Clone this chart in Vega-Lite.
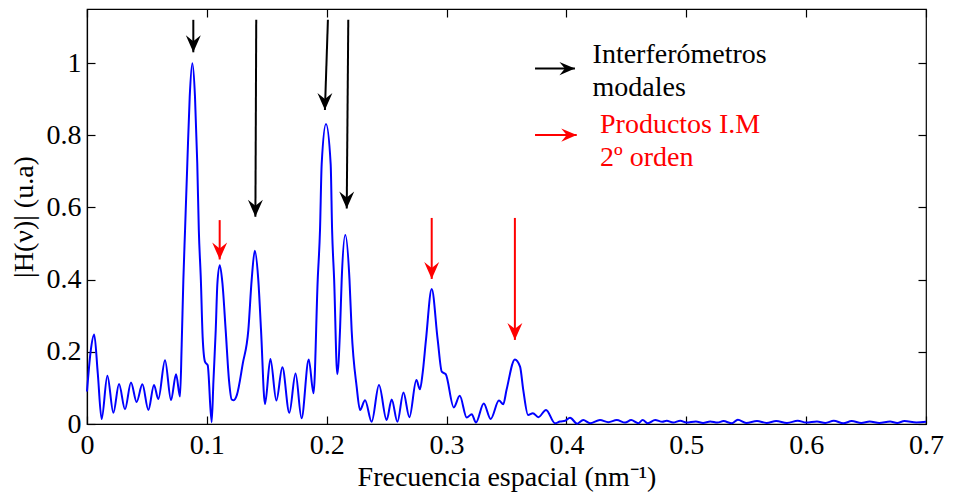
{
  "$schema": "https://vega.github.io/schema/vega-lite/v6.json",
  "width": 839,
  "height": 415,
  "autosize": {"type": "none"},
  "padding": {"left": 87, "top": 9, "right": 29, "bottom": 71},
  "background": "white",
  "config": {
    "view": {"stroke": "black", "strokeWidth": 1.2},
    "font": "Liberation Serif",
    "axis": {
      "domainColor": "black", "domainWidth": 1.2,
      "tickColor": "black", "tickWidth": 1.2, "tickSize": -8,
      "labelFont": "Liberation Serif", "labelFontSize": 28, "labelColor": "black",
      "titleFont": "Liberation Serif", "titleFontSize": 28, "titleFontWeight": "normal", "titleColor": "black",
      "grid": false
    }
  },
  "datasets": {
    "curve": [
      {"f": 0.000, "h": 0.09}, {"f": 0.003, "h": 0.20}, {"f": 0.006, "h": 0.248}, {"f": 0.009, "h": 0.14},
      {"f": 0.0122, "h": 0.014}, {"f": 0.017, "h": 0.134}, {"f": 0.022, "h": 0.031}, {"f": 0.0267, "h": 0.111},
      {"f": 0.0317, "h": 0.041}, {"f": 0.0367, "h": 0.115}, {"f": 0.0414, "h": 0.061}, {"f": 0.0462, "h": 0.110},
      {"f": 0.0512, "h": 0.039}, {"f": 0.0559, "h": 0.108}, {"f": 0.0595, "h": 0.069}, {"f": 0.0651, "h": 0.177},
      {"f": 0.0701, "h": 0.066}, {"f": 0.0743, "h": 0.138}, {"f": 0.0776, "h": 0.076}, {"f": 0.0790, "h": 0.22},
      {"f": 0.0804, "h": 0.40}, {"f": 0.0818, "h": 0.537}, {"f": 0.0837, "h": 0.722}, {"f": 0.0857, "h": 0.907},
      {"f": 0.0879, "h": 1.0}, {"f": 0.0901, "h": 0.907}, {"f": 0.0920, "h": 0.722}, {"f": 0.0933, "h": 0.537},
      {"f": 0.0950, "h": 0.399}, {"f": 0.0965, "h": 0.24}, {"f": 0.0985, "h": 0.172}, {"f": 0.1007, "h": 0.163},
      {"f": 0.1040, "h": 0.005}, {"f": 0.1055, "h": 0.12}, {"f": 0.1074, "h": 0.26}, {"f": 0.1088, "h": 0.39},
      {"f": 0.1108, "h": 0.44}, {"f": 0.1130, "h": 0.39}, {"f": 0.1157, "h": 0.26}, {"f": 0.1185, "h": 0.12},
      {"f": 0.1207, "h": 0.068}, {"f": 0.1225, "h": 0.066}, {"f": 0.125, "h": 0.080}, {"f": 0.1300, "h": 0.168},
      {"f": 0.1346, "h": 0.26}, {"f": 0.1374, "h": 0.40}, {"f": 0.1400, "h": 0.48}, {"f": 0.1429, "h": 0.40},
      {"f": 0.1452, "h": 0.26}, {"f": 0.1485, "h": 0.055}, {"f": 0.153, "h": 0.180}, {"f": 0.158, "h": 0.065},
      {"f": 0.163, "h": 0.157}, {"f": 0.1688, "h": 0.031}, {"f": 0.174, "h": 0.140}, {"f": 0.179, "h": 0.016},
      {"f": 0.185, "h": 0.179}, {"f": 0.189, "h": 0.085}, {"f": 0.1925, "h": 0.40}, {"f": 0.1944, "h": 0.537},
      {"f": 0.1958, "h": 0.72}, {"f": 0.1994, "h": 0.831}, {"f": 0.2033, "h": 0.72}, {"f": 0.2045, "h": 0.537},
      {"f": 0.2062, "h": 0.40}, {"f": 0.2088, "h": 0.138}, {"f": 0.2111, "h": 0.26}, {"f": 0.2125, "h": 0.40},
      {"f": 0.2155, "h": 0.524}, {"f": 0.2190, "h": 0.40}, {"f": 0.2208, "h": 0.26}, {"f": 0.2250, "h": 0.103},
      {"f": 0.2278, "h": 0.039}, {"f": 0.232, "h": 0.066}, {"f": 0.2375, "h": 0.006}, {"f": 0.2436, "h": 0.108},
      {"f": 0.250, "h": 0.011}, {"f": 0.2542, "h": 0.068}, {"f": 0.259, "h": 0.006}, {"f": 0.264, "h": 0.087},
      {"f": 0.269, "h": 0.019}, {"f": 0.2748, "h": 0.122}, {"f": 0.2778, "h": 0.096}, {"f": 0.2800, "h": 0.14},
      {"f": 0.2828, "h": 0.233}, {"f": 0.2876, "h": 0.374}, {"f": 0.2926, "h": 0.233}, {"f": 0.296, "h": 0.145},
      {"f": 0.2993, "h": 0.138}, {"f": 0.306, "h": 0.046}, {"f": 0.311, "h": 0.078}, {"f": 0.3168, "h": 0.018},
      {"f": 0.321, "h": 0.027}, {"f": 0.3245, "h": 0.004}, {"f": 0.331, "h": 0.057}, {"f": 0.3368, "h": 0.014},
      {"f": 0.3437, "h": 0.065}, {"f": 0.3473, "h": 0.055}, {"f": 0.350, "h": 0.094}, {"f": 0.357, "h": 0.179},
      {"f": 0.3613, "h": 0.159}, {"f": 0.364, "h": 0.094}, {"f": 0.368, "h": 0.025}, {"f": 0.372, "h": 0.030},
      {"f": 0.3766, "h": 0.019}, {"f": 0.383, "h": 0.039}, {"f": 0.3905, "h": 0.002}, {"f": 0.3946, "h": 0.007},
      {"f": 0.399, "h": 0.009}, {"f": 0.403, "h": 0.017}, {"f": 0.409, "h": 0.001}, {"f": 0.414, "h": 0.011},
      {"f": 0.4197, "h": 0.002}, {"f": 0.428, "h": 0.011}, {"f": 0.435, "h": 0.005}, {"f": 0.442, "h": 0.011},
      {"f": 0.449, "h": 0.004}, {"f": 0.454, "h": 0.011}, {"f": 0.460, "h": 0.002}, {"f": 0.4636, "h": 0.011},
      {"f": 0.468, "h": 0.002}, {"f": 0.474, "h": 0.011}, {"f": 0.480, "h": 0.006}, {"f": 0.4837, "h": 0.009},
      {"f": 0.489, "h": 0.004}, {"f": 0.495, "h": 0.009}, {"f": 0.500, "h": 0.004}, {"f": 0.508, "h": 0.007},
      {"f": 0.514, "h": 0.003}, {"f": 0.520, "h": 0.007}, {"f": 0.526, "h": 0.004}, {"f": 0.531, "h": 0.008},
      {"f": 0.538, "h": 0.002}, {"f": 0.543, "h": 0.012}, {"f": 0.550, "h": 0.003}, {"f": 0.559, "h": 0.008},
      {"f": 0.567, "h": 0.003}, {"f": 0.575, "h": 0.008}, {"f": 0.584, "h": 0.003}, {"f": 0.593, "h": 0.009},
      {"f": 0.600, "h": 0.004}, {"f": 0.609, "h": 0.007}, {"f": 0.616, "h": 0.003}, {"f": 0.623, "h": 0.009},
      {"f": 0.631, "h": 0.002}, {"f": 0.638, "h": 0.008}, {"f": 0.646, "h": 0.003}, {"f": 0.653, "h": 0.007},
      {"f": 0.661, "h": 0.003}, {"f": 0.670, "h": 0.007}, {"f": 0.676, "h": 0.003}, {"f": 0.682, "h": 0.008},
      {"f": 0.692, "h": 0.004}, {"f": 0.700, "h": 0.006}
    ],
    "arrows": [
      {"xtop": 0.0887, "x": 0.0887, "ytop": 1.120, "ytip": 1.030, "kind": "modal"},
      {"xtop": 0.1412, "x": 0.1405, "ytop": 1.120, "ytip": 0.574, "kind": "modal"},
      {"xtop": 0.2010, "x": 0.1985, "ytop": 1.120, "ytip": 0.870, "kind": "modal"},
      {"xtop": 0.2180, "x": 0.2167, "ytop": 1.120, "ytip": 0.597, "kind": "modal"},
      {"xtop": 0.1107, "x": 0.1107, "ytop": 0.565, "ytip": 0.456, "kind": "product"},
      {"xtop": 0.2876, "x": 0.2876, "ytop": 0.571, "ytip": 0.402, "kind": "product"},
      {"xtop": 0.3570, "x": 0.3570, "ytop": 0.571, "ytip": 0.233, "kind": "product"}
    ],
    "legendArrows": [
      {"x1": 0.3738, "x2": 0.4071, "y": 0.985, "kind": "modal"},
      {"x1": 0.3738, "x2": 0.4086, "y": 0.8006, "kind": "product"}
    ],
    "legendText": [
      {"x": 0.4218, "y": 1.022, "label": "Interferómetros", "kind": "modal"},
      {"x": 0.4218, "y": 0.931, "label": "modales", "kind": "modal"},
      {"x": 0.4280, "y": 0.828, "label": "Productos I.M", "kind": "product"},
      {"x": 0.4280, "y": 0.737, "label": "2º orden", "kind": "product"}
    ]
  },
  "layer": [
    {
      "data": {"name": "curve"},
      "mark": {"type": "line", "color": "#0000ff", "strokeWidth": 2, "interpolate": "monotone"},
      "encoding": {
        "x": {"field": "f", "type": "quantitative",
              "scale": {"domain": [0, 0.7], "nice": false, "zero": false},
              "axis": {"orient": "bottom", "values": [0, 0.1, 0.2, 0.3, 0.4, 0.5, 0.6, 0.7], "format": "~g",
                       "title": "Frecuencia espacial (nm⁻¹)", "labelPadding": 15, "titlePadding": 4, "labelFlush": false}},
        "y": {"field": "h", "type": "quantitative",
              "scale": {"domain": [0, 1.15], "nice": false, "zero": false},
              "axis": {"orient": "left", "values": [0, 0.2, 0.4, 0.6, 0.8, 1], "format": "~g",
                       "title": "|H(ν)| (u.a)", "labelPadding": 14, "titlePadding": 8}}
      }
    },
    {
      "data": {"name": "arrows"},
      "mark": {"type": "rule", "strokeWidth": 2},
      "encoding": {
        "x": {"field": "xtop", "type": "quantitative", "scale": {"domain": [0, 0.7], "nice": false, "zero": false},
              "axis": {"orient": "top", "values": [0, 0.1, 0.2, 0.3, 0.4, 0.5, 0.6, 0.7], "labels": false, "title": null, "domain": false}},
        "x2": {"field": "x"},
        "y": {"field": "ytop", "type": "quantitative", "scale": {"domain": [0, 1.15], "nice": false, "zero": false},
              "axis": {"orient": "right", "values": [0, 0.2, 0.4, 0.6, 0.8, 1], "labels": false, "title": null, "domain": false}},
        "y2": {"field": "ytip"},
        "color": {"field": "kind", "type": "nominal", "scale": {"domain": ["modal", "product"], "range": ["#000000", "#ff0000"]}, "legend": null}
      }
    },
    {
      "data": {"name": "arrows"},
      "mark": {"type": "point", "shape": "M0,0 L-0.88,-2 L0,-1.3 L0.88,-2 Z", "filled": true, "opacity": 1, "size": 289, "strokeWidth": 0},
      "encoding": {
        "x": {"field": "x", "type": "quantitative", "scale": {"domain": [0, 0.7], "nice": false, "zero": false}, "axis": null},
        "y": {"field": "ytip", "type": "quantitative", "scale": {"domain": [0, 1.15], "nice": false, "zero": false}, "axis": null},
        "color": {"field": "kind", "type": "nominal", "scale": {"domain": ["modal", "product"], "range": ["#000000", "#ff0000"]}, "legend": null}
      }
    },
    {
      "data": {"name": "legendArrows"},
      "mark": {"type": "rule", "strokeWidth": 2},
      "encoding": {
        "x": {"field": "x1", "type": "quantitative", "scale": {"domain": [0, 0.7], "nice": false, "zero": false}, "axis": null},
        "x2": {"field": "x2"},
        "y": {"field": "y", "type": "quantitative", "scale": {"domain": [0, 1.15], "nice": false, "zero": false}, "axis": null},
        "color": {"field": "kind", "type": "nominal", "scale": {"domain": ["modal", "product"], "range": ["#000000", "#ff0000"]}, "legend": null}
      }
    },
    {
      "data": {"name": "legendArrows"},
      "mark": {"type": "point", "shape": "M0,0 L-2,-0.85 L-1.3,0 L-2,0.85 Z", "filled": true, "opacity": 1, "size": 240, "strokeWidth": 0},
      "encoding": {
        "x": {"field": "x2", "type": "quantitative", "scale": {"domain": [0, 0.7], "nice": false, "zero": false}, "axis": null},
        "y": {"field": "y", "type": "quantitative", "scale": {"domain": [0, 1.15], "nice": false, "zero": false}, "axis": null},
        "color": {"field": "kind", "type": "nominal", "scale": {"domain": ["modal", "product"], "range": ["#000000", "#ff0000"]}, "legend": null}
      }
    },
    {
      "data": {"name": "legendText"},
      "mark": {"type": "text", "align": "left", "baseline": "middle", "font": "Liberation Serif", "fontSize": 28},
      "encoding": {
        "x": {"field": "x", "type": "quantitative", "scale": {"domain": [0, 0.7], "nice": false, "zero": false}, "axis": null},
        "y": {"field": "y", "type": "quantitative", "scale": {"domain": [0, 1.15], "nice": false, "zero": false}, "axis": null},
        "text": {"field": "label", "type": "nominal"},
        "color": {"field": "kind", "type": "nominal", "scale": {"domain": ["modal", "product"], "range": ["#000000", "#ff0000"]}, "legend": null}
      }
    }
  ],
  "resolve": {"axis": {"x": "independent", "y": "independent"}}
}
